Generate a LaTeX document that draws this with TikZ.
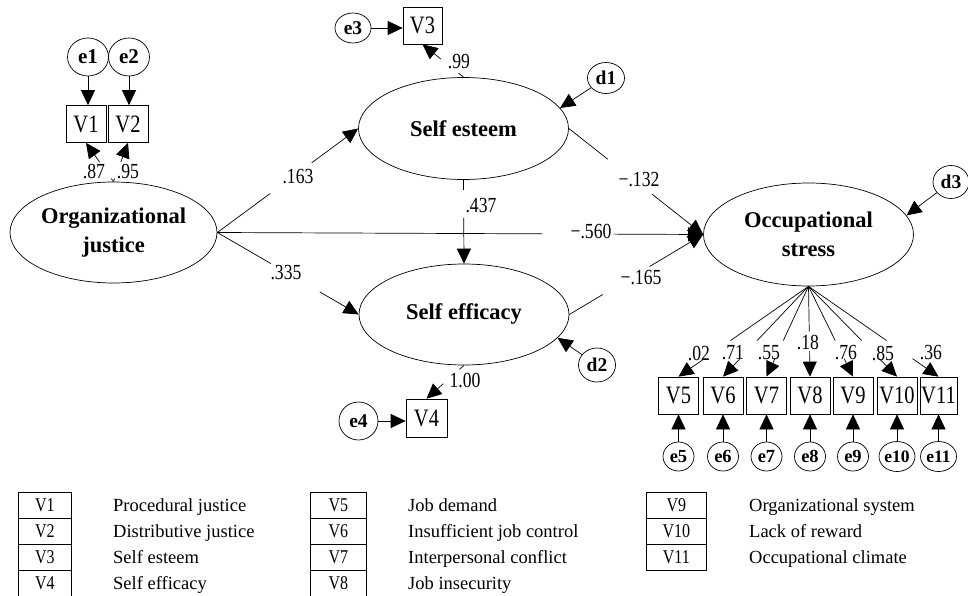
\documentclass[tikz,border=0pt]{standalone}
\usepackage{fontspec}
\setmainfont{Liberation Serif}
\newfontfamily\nf[FakeStretch=0.82]{Liberation Serif}
\newfontfamily\lf{Liberation Serif Bold}
\usetikzlibrary{arrows.meta,calc,shapes.geometric}
\begin{document}
\begin{tikzpicture}[x=1pt,y=-1pt,
  lat/.style={draw, ellipse, inner sep=0pt, minimum width=210pt, minimum height=102pt, align=center, font=\lf\fontsize{22.5}{29}\selectfont, line width=0.7pt},
  err/.style={draw, ellipse, inner sep=0pt, font=\lf\fontsize{18.5}{18.5}\selectfont, line width=0.7pt},
  obs/.style={draw, rectangle, inner sep=0pt, minimum width=40pt, minimum height=37pt, font=\nf\fontsize{25}{25}\selectfont, line width=0.7pt},
  num/.style={inner sep=0pt, font=\nf\fontsize{21.5}{21.5}\selectfont},
  arr/.style={-{Triangle[length=15pt,width=14pt]}, line width=0.7pt},
  ln/.style={line width=0.7pt},
  lbox/.style={draw, rectangle, inner sep=0pt, minimum height=26pt, anchor=north west, font=\nf\fontsize{19.5}{19.5}\selectfont, line width=0.7pt},
  ltext/.style={anchor=base west, inner sep=0pt, font=\fontsize{18.5}{18.5}\selectfont}
]
\useasboundingbox (0,0) rectangle (968,596);
\fill[white] (0,0) rectangle (968,596);

% latent variables
\node[lat, minimum width=207pt, minimum height=101pt] (oj) at (113.5,232.5) {Organizational\\justice};
\node[lat] (se) at (463.5,128.5) {Self esteem};
\node[lat, minimum height=101pt] (sf) at (464,314.5) {Self efficacy};
\node[lat, minimum height=103pt] (os) at (808.5,234.5) {Occupational\\stress};

% observed variables
\node[obs] (v1) at (86,124) {V1};
\node[obs] (v2) at (128,124) {V2};
\node[obs, minimum width=39pt] (v3) at (422.5,25.5) {V3};
\node[obs, minimum width=41pt, minimum height=38pt] (v4) at (426.5,418) {V4};
\node[obs] (v5) at (678.5,395.5) {V5};
\node[obs] (v6) at (723,395.5) {V6};
\node[obs] (v7) at (766.5,395.5) {V7};
\node[obs] (v8) at (810,395.5) {V8};
\node[obs] (v9) at (853,395.5) {V9};
\node[obs] (v10) at (897,395.5) {V10};
\node[obs, minimum width=37pt] (v11) at (938.5,395.5) {V11};

% error terms
\node[err, minimum width=41pt, minimum height=38pt, font=\lf\fontsize{21}{21}\selectfont] (e1) at (88,57) {e1};
\node[err, minimum width=41pt, minimum height=38pt, font=\lf\fontsize{21}{21}\selectfont] (e2) at (129,57) {e2};
\node[err, minimum width=36pt, minimum height=30pt, font=\lf\fontsize{19.5}{19.5}\selectfont] (e3) at (353,28) {e3};
\node[err, minimum width=39pt, minimum height=38pt, font=\lf\fontsize{19.5}{19.5}\selectfont] (e4) at (358.5,421) {e4};
\node[err, minimum width=37pt, minimum height=31pt, font=\lf\fontsize{19.5}{19.5}\selectfont] (d1) at (606,78) {d1};
\node[err, minimum width=37pt, minimum height=34pt, font=\lf\fontsize{19.5}{19.5}\selectfont] (d2) at (597,365) {d2};
\node[err, minimum width=36pt, minimum height=33pt, font=\lf\fontsize{19.5}{19.5}\selectfont] (d3) at (951,182) {d3};
\node[err, minimum width=31pt, minimum height=29pt] (e5) at (678.5,456.5) {e5};
\node[err, minimum width=31pt, minimum height=29pt] (e6) at (723,456.5) {e6};
\node[err, minimum width=31pt, minimum height=29pt] (e7) at (766.5,456.5) {e7};
\node[err, minimum width=31pt, minimum height=29pt] (e8) at (810,456.5) {e8};
\node[err, minimum width=31pt, minimum height=29pt] (e9) at (853,456.5) {e9};
\node[err, minimum width=36pt, minimum height=30pt, font=\lf\fontsize{17.5}{17.5}\selectfont] (e10) at (897,456.5) {e10};
\node[err, minimum width=36pt, minimum height=30pt, font=\lf\fontsize{17.5}{17.5}\selectfont] (e11) at (938.5,456.5) {e11};

% error arrows
\draw[arr] (e1) -- (e1 |- v1.north);
\draw[arr] (e2) -- (e2 |- v2.north);
\draw[arr] (e3) -- (e3 -| v3.west);
\draw[arr] (e4) -- (e4 -| v4.west);
\foreach \i in {5,...,11} { \draw[arr] (e\i) -- (v\i); }
\draw[arr] (d1) -- (se.12);
\draw[arr] (d2) -- (sf.346);
\draw[arr] (d3) -- (os.11);

% loadings of organizational justice
\draw[ln] (oj.north) -- ($(oj.north)!0.08!(v1.south)$);
\draw[arr] ($(oj.north)!0.5!(v1.south)$) -- (v1.south);
\draw[ln] (oj.north) -- ($(oj.north)!0.08!(v2.south)$);
\draw[arr] ($(oj.north)!0.5!(v2.south)$) -- (v2.south);
\node[num] (l87) at (94,172) {.87};
\node[num] (l95) at (128,172) {.95};

% loading self esteem
\draw[ln] (se.north) -- ($(se.north)!0.12!(v3.south)$);
\draw[arr] ($(se.north)!0.55!(v3.south)$) -- (v3.south);
\node[num] (l99) at (459,62) {.99};

% loading self efficacy
\draw[ln] (sf.south) -- ($(sf.south)!0.12!(v4.north)$);
\draw[arr] ($(sf.south)!0.55!(v4.north)$) -- (v4.north);
\node[num] (l100) at (465,381) {1.00};

% loadings of occupational stress
\foreach \v in {v5,v6,v7,v9,v10,v11} {
  \draw[ln] (os.south) -- ($(os.south)!0.6!(\v.north)$);
  \draw[arr] ($(os.south)!0.8!(\v.north)$) -- (\v.north);
}
\draw[ln] (os.south) -- ($(os.south)!0.5!(v8.north)$);
\draw[arr] ($(os.south)!0.72!(v8.north)$) -- (v8.north);
\node[num] (l02) at (699,353) {.02};
\node[num] (l71) at (733,353) {.71};
\node[num] (l55) at (769,353) {.55};
\node[num] (l18) at (808,343) {.18};
\node[num] (l76) at (846,353) {.76};
\node[num] (l85) at (883,353) {.85};
\node[num] (l36) at (931,353) {.36};

% structural paths
\draw[ln] (oj.east) -- ($(oj.east)!0.375!(se.west)$);
\draw[arr] ($(oj.east)!0.67!(se.west)$) -- (se.west);
\node[num] (l163) at (298,177) {.163};

\draw[ln] (oj.east) -- ($(oj.east)!0.38!(sf.west)$);
\draw[arr] ($(oj.east)!0.725!(sf.west)$) -- (sf.west);
\node[num] (l335) at (286,273) {.335};

\draw[ln] (oj.east) -- ($(oj.east)!0.669!(os.west)$);
\draw[arr] ($(oj.east)!0.815!(os.west)$) -- (os.west);
\node[num] (l560) at (591,232) {−.560};

\draw[ln] (se.east) -- ($(se.east)!0.29!(os.west)$);
\draw[arr] ($(se.east)!0.62!(os.west)$) -- (os.west);
\node[num] (l132) at (639,180) {−.132};

\draw[ln] (sf.east) -- ($(sf.east)!0.25!(os.west)$);
\draw[arr] ($(sf.east)!0.6!(os.west)$) -- (os.west);
\node[num] (l165) at (641,278) {−.165};

\draw[ln] (se.south) -- ($(se.south)!0.12!(sf.north)$);
\draw[arr] ($(se.south)!0.45!(sf.north)$) -- (sf.north);
\node[num] (l437) at (481,206) {.437};

% legend
\node[lbox, minimum width=53pt] (lv1) at (18,491.5) {V1};
\node[lbox, minimum width=53pt] (lv2) at (18,517.5) {V2};
\node[lbox, minimum width=53pt] (lv3) at (18,543.5) {V3};
\node[lbox, minimum width=53pt] (lv4) at (18,569.5) {V4};
\node[ltext] (tv1) at (113,511) {Procedural justice};
\node[ltext] (tv2) at (113,537) {Distributive justice};
\node[ltext] (tv3) at (113,563) {Self esteem};
\node[ltext] (tv4) at (113,589) {Self efficacy};

\node[lbox, minimum width=56pt] (lv5) at (310,491.5) {V5};
\node[lbox, minimum width=56pt] (lv6) at (310,517.5) {V6};
\node[lbox, minimum width=56pt] (lv7) at (310,543.5) {V7};
\node[lbox, minimum width=56pt] (lv8) at (310,569.5) {V8};
\node[ltext] (tv5) at (408,511) {Job demand};
\node[ltext] (tv6) at (408,537) {Insufficient job control};
\node[ltext] (tv7) at (408,563) {Interpersonal conflict};
\node[ltext] (tv8) at (408,589) {Job insecurity};

\node[lbox, minimum width=60pt] (lv9) at (646,491.5) {V9};
\node[lbox, minimum width=60pt] (lv10) at (646,517.5) {V10};
\node[lbox, minimum width=60pt] (lv11) at (646,543.5) {V11};
\node[ltext] (tv9) at (749,511) {Organizational system};
\node[ltext] (tv10) at (749,537) {Lack of reward};
\node[ltext] (tv11) at (749,563) {Occupational climate};
\end{tikzpicture}
\end{document}
